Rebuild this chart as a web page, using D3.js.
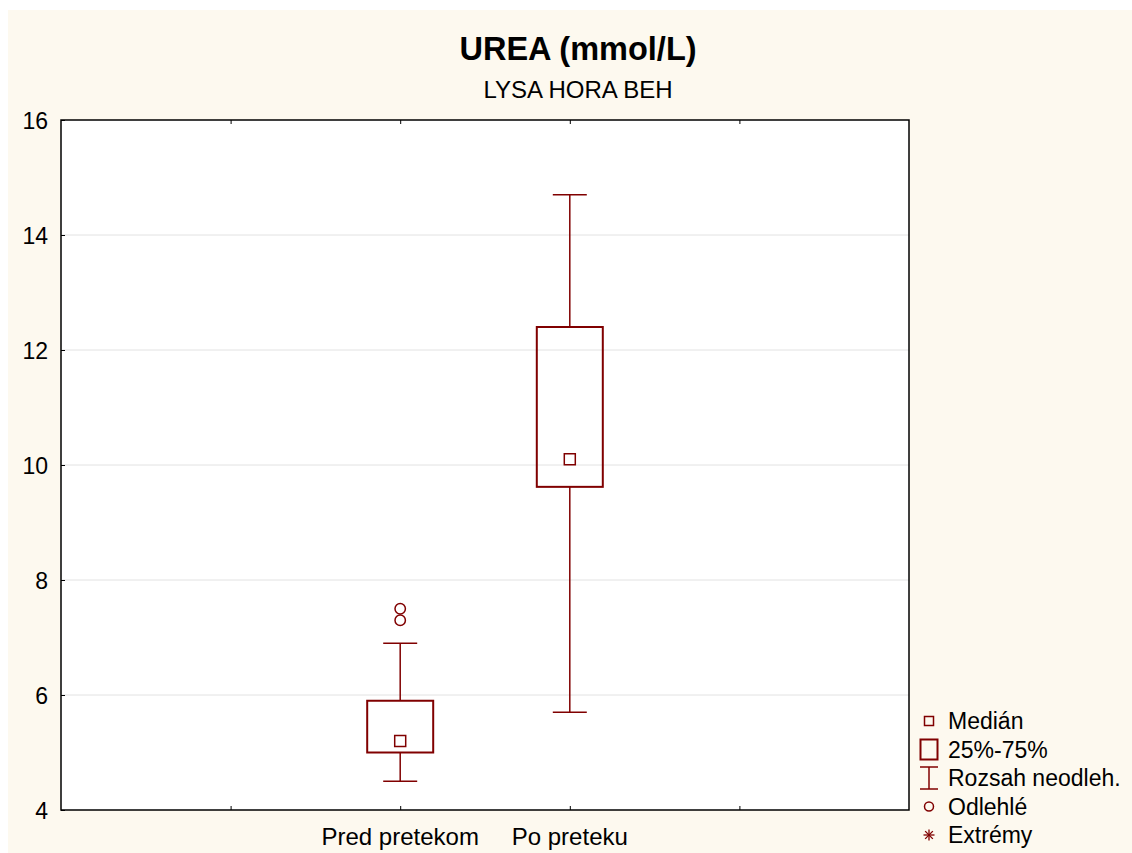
<!DOCTYPE html>
<html><head><meta charset="utf-8">
<script src="https://cdn.jsdelivr.net/npm/d3@7"></script>
<style>body{margin:0;background:#fff}svg{display:block}text{font-family:Arial,"Liberation Sans",sans-serif}</style>
</head><body>
<svg id="c" width="1132" height="853"></svg>
<script>
const categories = ["Pred pretekom", "Po preteku"];
const slots = ["", "", "Pred pretekom", "Po preteku", "", ""];
const whiskerLow = [4.5, 5.7];
const q1 = [5.0, 9.62];
const median = [5.2, 10.1];
const q3 = [5.9, 12.4];
const whiskerHigh = [6.9, 14.7];
const outliers = [[7.3, 7.5], []];
const yTicks = [4, 6, 8, 10, 12, 14, 16];
const legendLabels = ["Medián", "25%-75%", "Rozsah neodleh.", "Odlehlé", "Extrémy"];

const svg = d3.select("#c");
const col = "#800000";
const L = 61, R = 909, T = 120, B = 810;
svg.append("rect").attr("x", 8).attr("y", 10).attr("width", 1124).attr("height", 843).attr("fill", "#fdf9ef");
svg.append("rect").attr("x", L).attr("y", T).attr("width", R - L).attr("height", B - T).attr("fill", "#fff");

const y = d3.scaleLinear().domain([4, 16]).range([B, T]);
const x = d3.scalePoint().domain(d3.range(slots.length)).range([L, R]);

// grid
svg.append("g").selectAll("line").data(yTicks.slice(1, -1)).join("line")
  .attr("x1", L).attr("x2", R).attr("y1", d => y(d)).attr("y2", d => y(d))
  .attr("stroke", "#e2e2e2").attr("stroke-width", 1);

// axes
const gy = svg.append("g").attr("transform", `translate(${L},0)`)
  .call(d3.axisLeft(y).tickValues(yTicks).tickSize(-4).tickPadding(13).tickFormat(d3.format("d")));
const gxb = svg.append("g").attr("transform", `translate(0,${B})`)
  .call(d3.axisBottom(x).tickValues([1, 2, 3, 4]).tickSize(-4).tickFormat(() => ""));
const gxt = svg.append("g").attr("transform", `translate(0,${T})`)
  .call(d3.axisTop(x).tickValues([1, 2, 3, 4]).tickSize(-4).tickFormat(() => ""));
[gy, gxb, gxt].forEach(g => {
  g.select(".domain").remove();
  g.selectAll(".tick line").attr("stroke", "#000").attr("stroke-width", 1);
});
gy.selectAll(".tick text").attr("font-size", 23).attr("fill", "#000").attr("dy", "0.36em");
svg.append("rect").attr("x", L).attr("y", T).attr("width", R - L).attr("height", B - T)
  .attr("fill", "none").attr("stroke", "#000").attr("stroke-width", 1.5);

// category labels
svg.append("g").selectAll("text").data(categories).join("text")
  .attr("x", (d, i) => x(i + 2)).attr("y", 845).attr("text-anchor", "middle")
  .attr("font-size", 24).attr("fill", "#000").text(d => d);

// boxes
const bw = 66, cw = 34, ms = 11;
categories.forEach((c, i) => {
  const cx = x(i + 2);
  const g = svg.append("g");
  g.append("line").attr("x1", cx).attr("x2", cx).attr("y1", y(whiskerHigh[i])).attr("y2", y(q3[i])).attr("stroke", col).attr("stroke-width", 1.5);
  g.append("line").attr("x1", cx).attr("x2", cx).attr("y1", y(q1[i])).attr("y2", y(whiskerLow[i])).attr("stroke", col).attr("stroke-width", 1.5);
  g.append("line").attr("x1", cx - cw / 2).attr("x2", cx + cw / 2).attr("y1", y(whiskerHigh[i])).attr("y2", y(whiskerHigh[i])).attr("stroke", col).attr("stroke-width", 1.5);
  g.append("line").attr("x1", cx - cw / 2).attr("x2", cx + cw / 2).attr("y1", y(whiskerLow[i])).attr("y2", y(whiskerLow[i])).attr("stroke", col).attr("stroke-width", 1.5);
  g.append("rect").attr("x", cx - bw / 2).attr("y", y(q3[i])).attr("width", bw).attr("height", y(q1[i]) - y(q3[i]))
    .attr("fill", "none").attr("stroke", col).attr("stroke-width", 2);
  g.append("rect").attr("x", cx - ms / 2).attr("y", y(median[i]) - ms / 2).attr("width", ms).attr("height", ms)
    .attr("fill", "#fff").attr("stroke", col).attr("stroke-width", 1.5);
  g.selectAll("circle").data(outliers[i]).join("circle")
    .attr("cx", cx).attr("cy", d => y(d)).attr("r", 5.2)
    .attr("fill", "none").attr("stroke", col).attr("stroke-width", 1.5);
});

// titles
svg.append("text").attr("x", 578).attr("y", 60).attr("text-anchor", "middle")
  .attr("font-size", 32.5).attr("font-weight", "bold").attr("fill", "#000").text("UREA (mmol/L)");
svg.append("text").attr("x", 578).attr("y", 97.5).attr("text-anchor", "middle")
  .attr("font-size", 24).attr("fill", "#000").text("LYSA HORA BEH");

// legend
const ly0 = 721, ldy = 28.5, lx = 929;
const lg = svg.append("g");
legendLabels.forEach((t, i) => {
  const cy = ly0 + i * ldy;
  lg.append("text").attr("x", 948).attr("y", cy + 8).attr("font-size", 23).attr("fill", "#000").text(t);
  if (i === 0) lg.append("rect").attr("x", lx - 4.5).attr("y", cy - 4.5).attr("width", 9).attr("height", 9).attr("fill", "none").attr("stroke", col).attr("stroke-width", 1.5);
  if (i === 1) lg.append("rect").attr("x", lx - 8.5).attr("y", cy - 10).attr("width", 17).attr("height", 20).attr("fill", "none").attr("stroke", col).attr("stroke-width", 2);
  if (i === 2) {
    lg.append("line").attr("x1", lx).attr("x2", lx).attr("y1", cy - 11).attr("y2", cy + 11).attr("stroke", col).attr("stroke-width", 1.5);
    lg.append("line").attr("x1", lx - 9).attr("x2", lx + 9).attr("y1", cy - 11).attr("y2", cy - 11).attr("stroke", col).attr("stroke-width", 1.5);
    lg.append("line").attr("x1", lx - 9).attr("x2", lx + 9).attr("y1", cy + 11).attr("y2", cy + 11).attr("stroke", col).attr("stroke-width", 1.5);
  }
  if (i === 3) lg.append("circle").attr("cx", lx).attr("cy", cy).attr("r", 4.5).attr("fill", "none").attr("stroke", col).attr("stroke-width", 1.5);
  if (i === 4) {
    const s = 5.5;
    [[-s, 0, s, 0], [0, -s, 0, s], [-s * .7, -s * .7, s * .7, s * .7], [-s * .7, s * .7, s * .7, -s * .7]].forEach(p =>
      lg.append("line").attr("x1", lx + p[0]).attr("y1", cy + p[1]).attr("x2", lx + p[2]).attr("y2", cy + p[3]).attr("stroke", col).attr("stroke-width", 1.3));
  }
});
</script>
</body></html>
